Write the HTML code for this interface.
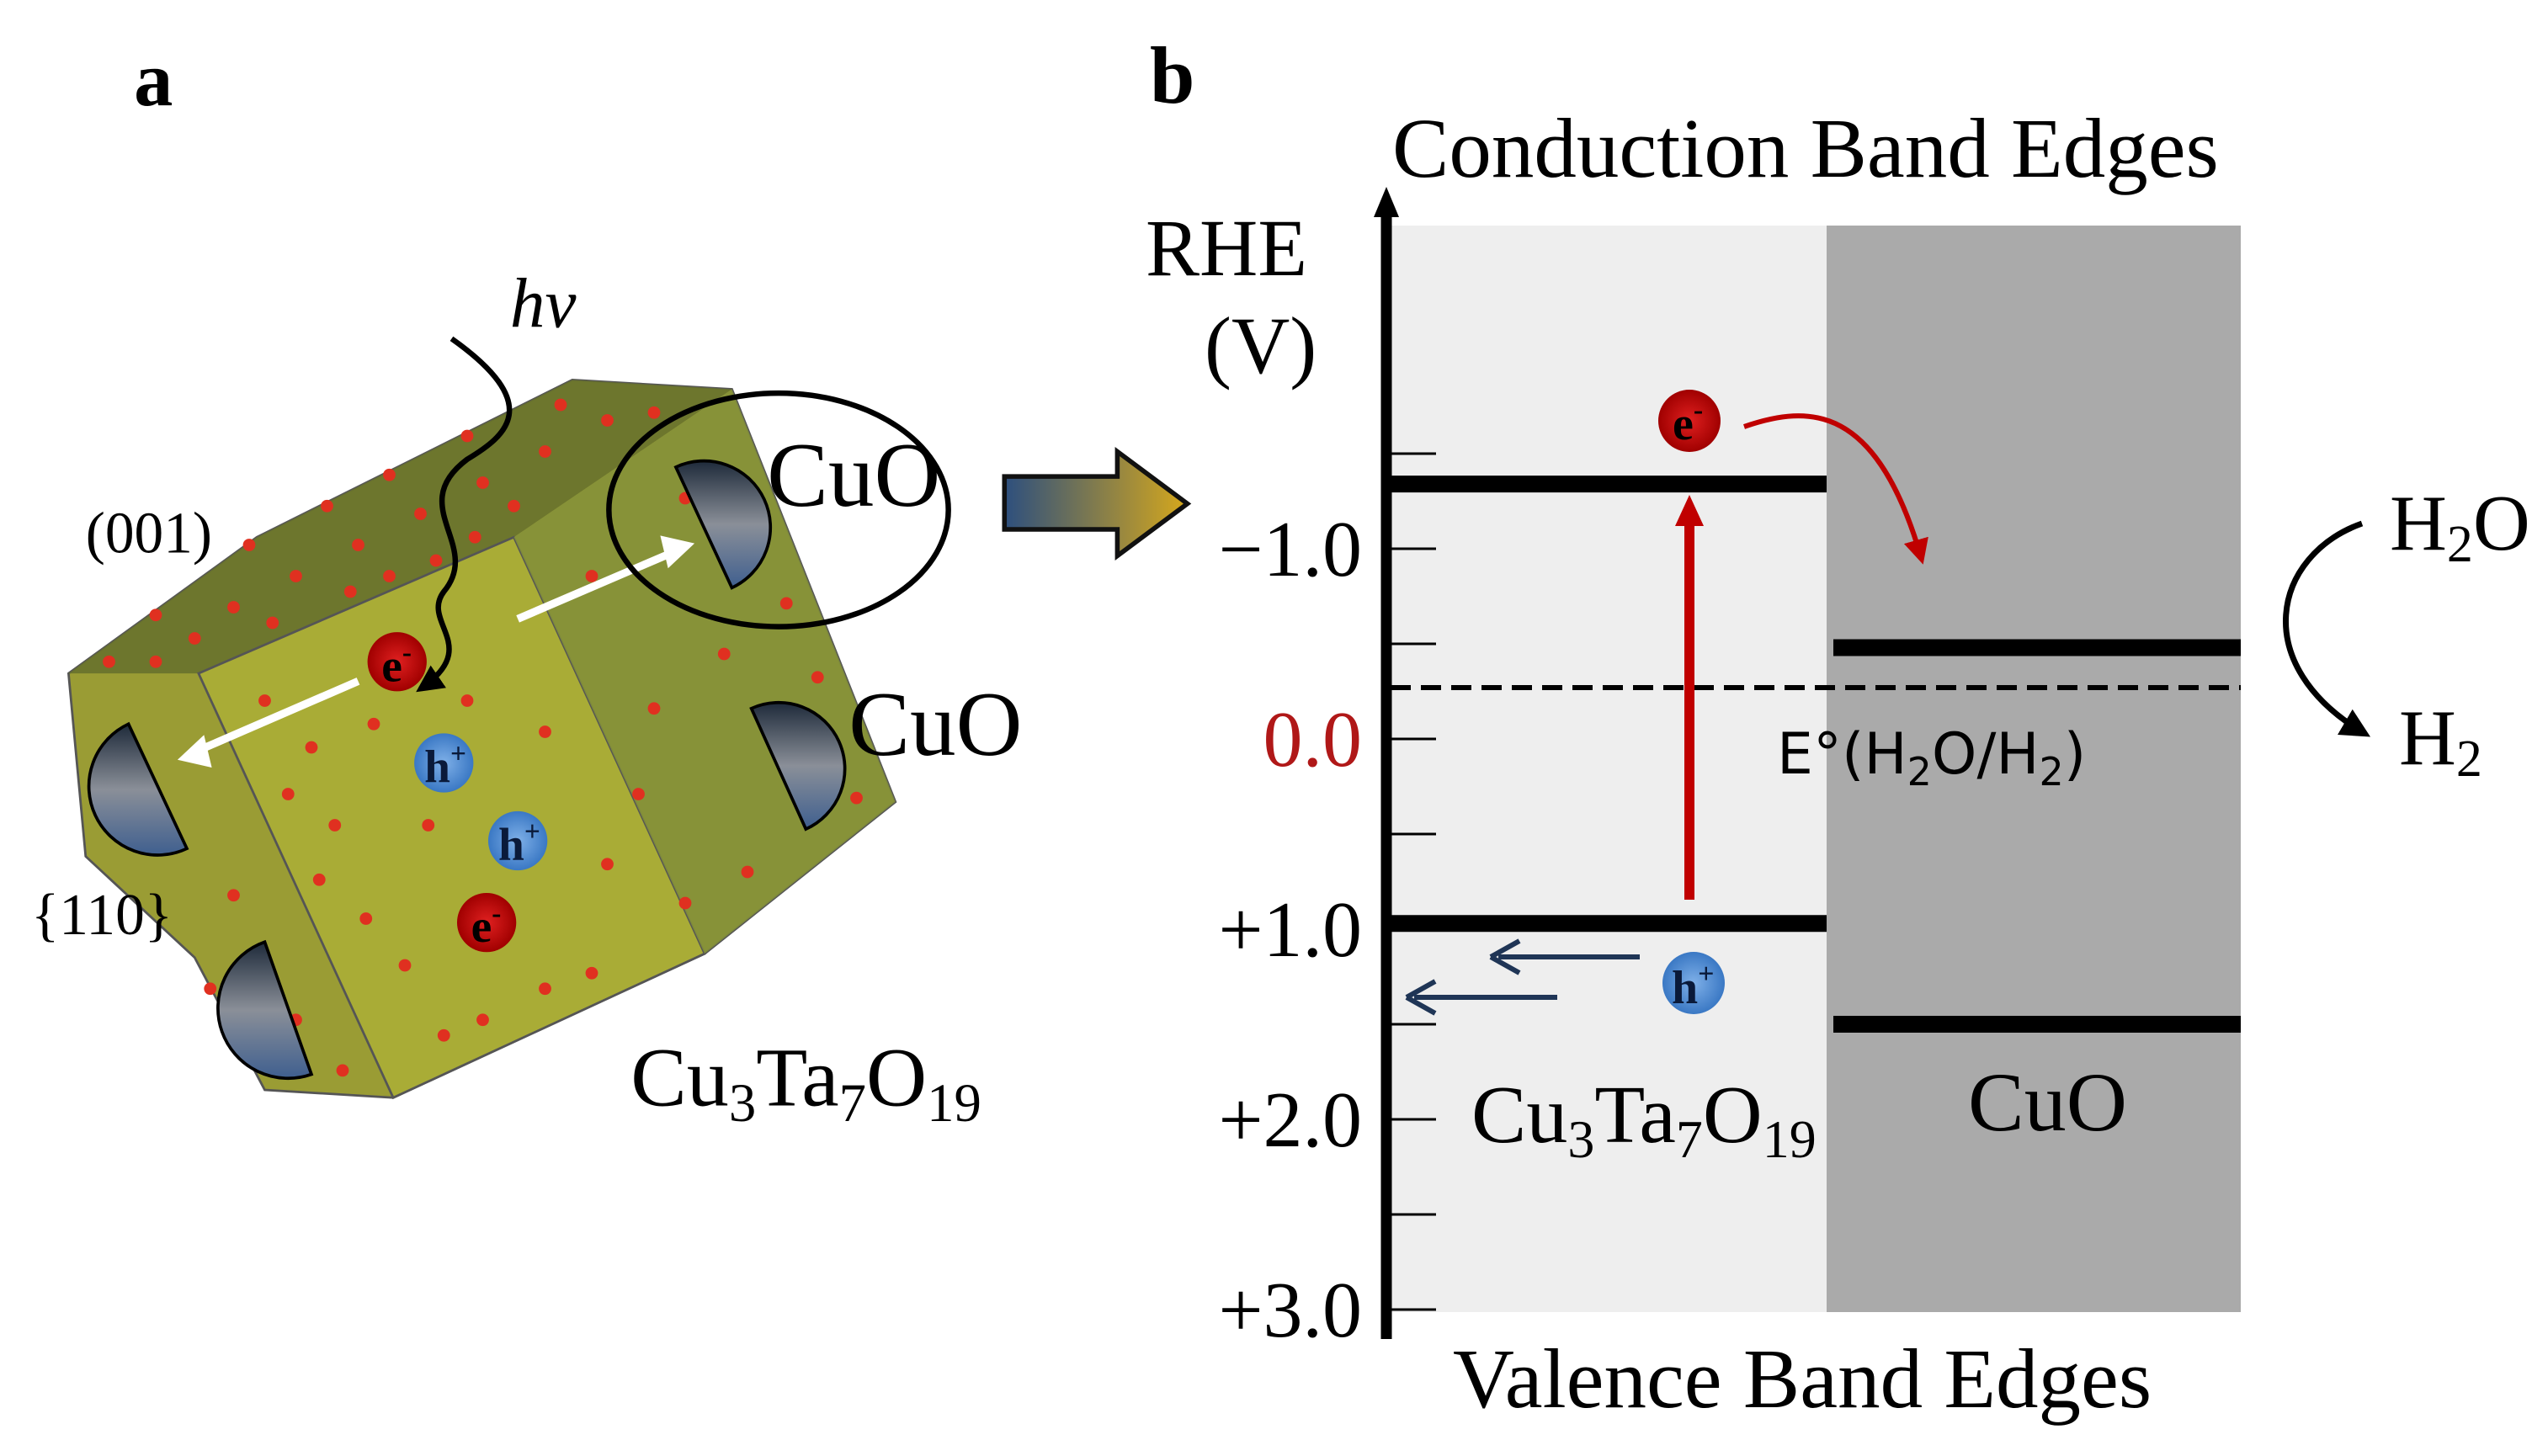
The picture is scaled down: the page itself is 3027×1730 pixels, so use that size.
<!DOCTYPE html>
<html><head><meta charset="utf-8"><style>
html,body{margin:0;padding:0;background:#fff;}
svg{display:block;}
text{font-family:"Liberation Serif",serif;}
</style></head><body>
<svg id="fig" width="3027" height="1730" viewBox="0 0 3027 1730" xmlns="http://www.w3.org/2000/svg">
<defs>
<linearGradient id="arr" x1="0" x2="1"><stop offset="0" stop-color="#2d4f7e"/><stop offset="1" stop-color="#d6a81c"/></linearGradient>
<linearGradient id="hemi" x1="0" y1="0" x2="0" y2="1"><stop offset="0" stop-color="#1e2a3a"/><stop offset="0.5" stop-color="#8a8f98"/><stop offset="1" stop-color="#3f5f8f"/></linearGradient>
<radialGradient id="blue"><stop offset="0" stop-color="#7fb0e8"/><stop offset="1" stop-color="#3a78c4"/></radialGradient>
<radialGradient id="red"><stop offset="0" stop-color="#e02020"/><stop offset="1" stop-color="#a00000"/></radialGradient>
<marker id="rtip" viewBox="0 0 10 10" refX="8" refY="5" markerWidth="5" markerHeight="5" orient="auto"><path d="M0,0 L10,5 L0,10 z" fill="#c00000"/></marker>
<marker id="ktip" viewBox="0 0 10 10" refX="8" refY="5" markerWidth="5" markerHeight="5" orient="auto"><path d="M0,0 L10,5 L0,10 z" fill="#000"/></marker>
</defs>

<!-- Panel a -->
<g transform="scale(0.925)">
<text x="172" y="135" font-size="100" font-weight="bold">a</text>
<polygon points="88,865 330,690 735,488 940,500 1150,1030 905,1225 505,1410 340,1400 250,1230 110,1100" fill="#9a9c34" stroke="#555" stroke-width="3"/>
<polygon points="88,865 330,690 735,488 940,500 660,690 255,865" fill="#68722c" opacity="0.9"/>
<polygon points="255,865 660,690 905,1225 505,1410" fill="#a9ac36" stroke="#555" stroke-width="3"/>
<polygon points="660,690 940,500 1150,1030 905,1225" fill="#84903a" opacity="0.85"/>
<g fill="#e03020">
<circle cx="300" cy="780" r="8"/><circle cx="380" cy="740" r="8"/><circle cx="460" cy="700" r="8"/><circle cx="540" cy="660" r="8"/><circle cx="620" cy="620" r="8"/><circle cx="700" cy="580" r="8"/><circle cx="780" cy="540" r="8"/><circle cx="250" cy="820" r="8"/><circle cx="350" cy="800" r="8"/><circle cx="450" cy="760" r="8"/><circle cx="560" cy="720" r="8"/><circle cx="660" cy="650" r="8"/><circle cx="140" cy="850" r="8"/><circle cx="200" cy="850" r="8"/>
<circle cx="320" cy="700" r="8"/><circle cx="420" cy="650" r="8"/><circle cx="500" cy="610" r="8"/><circle cx="600" cy="560" r="8"/><circle cx="720" cy="520" r="8"/><circle cx="840" cy="530" r="8"/><circle cx="200" cy="790" r="8"/><circle cx="500" cy="740" r="8"/><circle cx="610" cy="690" r="8"/>
<circle cx="400" cy="960" r="8"/><circle cx="700" cy="940" r="8"/><circle cx="430" cy="1060" r="8"/><circle cx="550" cy="1060" r="8"/><circle cx="410" cy="1130" r="8"/><circle cx="780" cy="1110" r="8"/><circle cx="520" cy="1240" r="8"/><circle cx="700" cy="1270" r="8"/><circle cx="620" cy="1310" r="8"/><circle cx="760" cy="1250" r="8"/><circle cx="840" cy="910" r="8"/><circle cx="930" cy="840" r="8"/><circle cx="1010" cy="775" r="8"/><circle cx="1100" cy="1025" r="8"/><circle cx="270" cy="1270" r="8"/><circle cx="440" cy="1375" r="8"/>
<circle cx="340" cy="900" r="8"/><circle cx="480" cy="930" r="8"/><circle cx="600" cy="900" r="8"/><circle cx="370" cy="1020" r="8"/><circle cx="470" cy="1180" r="8"/><circle cx="570" cy="1330" r="8"/><circle cx="820" cy="1020" r="8"/><circle cx="880" cy="1160" r="8"/><circle cx="960" cy="1120" r="8"/><circle cx="1050" cy="870" r="8"/><circle cx="760" cy="740" r="8"/><circle cx="880" cy="640" r="8"/><circle cx="300" cy="1150" r="8"/><circle cx="380" cy="1310" r="8"/>
</g>
<path d="M460,875 L250,966" stroke="#fff" stroke-width="10"/>
<path d="M228,976 L262,944 L272,986 Z" fill="#fff"/>
<path d="M665,795 L870,707" stroke="#fff" stroke-width="10"/>
<path d="M892,698 L858,730 L848,688 Z" fill="#fff"/>
<path d="M580,435 C700,520 650,560 600,590 C520,650 620,700 570,760 C540,800 620,830 540,885" fill="none" stroke="#000" stroke-width="7" marker-end="url(#ktip)"/>
<text x="655" y="420" font-size="90" font-style="italic">hv</text>
<path d="M868,600 A85,85 0 0 1 940,755 Z" fill="url(#hemi)" stroke="#000" stroke-width="4"/>
<path d="M965,910 A85,85 0 0 1 1035,1065 Z" fill="url(#hemi)" stroke="#000" stroke-width="4"/>
<path d="M165,930 A85,85 0 0 0 240,1090 Z" fill="url(#hemi)" stroke="#000" stroke-width="4"/>
<path d="M340,1210 A90,90 0 0 0 400,1380 Z" fill="url(#hemi)" stroke="#000" stroke-width="4"/>
<ellipse cx="1000" cy="655" rx="218" ry="150" fill="none" stroke="#000" stroke-width="7"/>
<circle cx="510" cy="850" r="38" fill="url(#red)"/>
<text x="490" y="875" font-size="60" font-weight="bold">e<tspan font-size="36" dy="-25">-</tspan></text>
<circle cx="625" cy="1185" r="38" fill="url(#red)"/>
<text x="605" y="1210" font-size="60" font-weight="bold">e<tspan font-size="36" dy="-25">-</tspan></text>
<circle cx="570" cy="980" r="38" fill="url(#blue)"/>
<text x="545" y="1005" font-size="60" font-weight="bold" fill="#0a1a3a">h<tspan font-size="36" dy="-25">+</tspan></text>
<circle cx="665" cy="1080" r="38" fill="url(#blue)"/>
<text x="640" y="1105" font-size="60" font-weight="bold" fill="#0a1a3a">h<tspan font-size="36" dy="-25">+</tspan></text>
<text x="985" y="650" font-size="118">CuO</text>
<text x="1090" y="970" font-size="118">CuO</text>
<text x="110" y="710" font-size="75">(001)</text>
<text x="40" y="1200" font-size="75">{110}</text>
<text x="810" y="1420" font-size="108">Cu<tspan font-size="70" dy="20">3</tspan><tspan dy="-20">Ta</tspan><tspan font-size="70" dy="20">7</tspan><tspan dy="-20">O</tspan><tspan font-size="70" dy="20">19</tspan></text>
<path d="M1290,612 L1435,612 L1435,580 L1525,647 L1435,714 L1435,680 L1290,680 Z" fill="url(#arr)" stroke="#111" stroke-width="6"/>
</g>

<!-- Panel b -->
<g id="panelb">
<text x="1366" y="122" font-size="96" font-weight="bold">b</text>
<rect x="1652" y="268" width="518" height="1291" fill="#eeeeee"/>
<rect x="2170" y="268" width="492" height="1291" fill="#aaaaaa"/>
<g id="ticks"></g>
<g id="bands"></g>
<line x1="1647" y1="250" x2="1647" y2="1591" stroke="#000" stroke-width="13"/>
<path d="M1647,222 L1632,258 L1662,258 Z" fill="#000"/>
<text x="1361" y="327" font-size="96">RHE</text>
<text x="1431" y="443" font-size="96">(V)</text>
<text x="1654" y="210" font-size="101">Conduction Band Edges</text>
<text x="1726" y="1672" font-size="101">Valence Band Edges</text>
<text x="2111" y="919" font-size="68" style="font-family:'DejaVu Sans',sans-serif">E°(H<tspan font-size="46" dy="14">2</tspan><tspan dy="-14">O/H</tspan><tspan font-size="46" dy="14">2</tspan><tspan dy="-14">)</tspan></text>
<path d="M2007,1069 L2007,610" stroke="#c00000" stroke-width="12"/>
<path d="M2007,588 L1990,625 L2024,625 Z" fill="#c00000"/>
<path d="M2072,507 C2150,480 2230,480 2283,665" fill="none" stroke="#c00000" stroke-width="6" marker-end="url(#rtip)"/>
<circle cx="2007" cy="500" r="37" fill="url(#red)"/>
<text x="1987" y="522" font-size="56" font-weight="bold">e<tspan font-size="34" dy="-24">-</tspan></text>
<line x1="1948" y1="1137" x2="1780" y2="1137" stroke="#1f3556" stroke-width="6"/>
<path d="M1771,1137 L1805,1118 M1771,1137 L1805,1156" stroke="#1f3556" stroke-width="6" fill="none"/>
<line x1="1850" y1="1185" x2="1680" y2="1185" stroke="#1f3556" stroke-width="6"/>
<path d="M1671,1185 L1705,1166 M1671,1185 L1705,1204" stroke="#1f3556" stroke-width="6" fill="none"/>
<circle cx="2012" cy="1168" r="37" fill="url(#blue)"/>
<text x="1986" y="1192" font-size="56" font-weight="bold" fill="#0a1a3a">h<tspan font-size="34" dy="-24">+</tspan></text>
<text x="1748" y="1357" font-size="98">Cu<tspan font-size="64" dy="18">3</tspan><tspan dy="-18">Ta</tspan><tspan font-size="64" dy="18">7</tspan><tspan dy="-18">O</tspan><tspan font-size="64" dy="18">19</tspan></text>
<text x="2338" y="1343" font-size="100">CuO</text>
<path d="M2806,622 C2700,660 2670,790 2810,872" fill="none" stroke="#000" stroke-width="7" marker-end="url(#ktip)"/>
<text x="2839" y="653" font-size="94">H<tspan font-size="62" dy="14">2</tspan><tspan dy="-14">O</tspan></text>
<text x="2850" y="908" font-size="94">H<tspan font-size="62" dy="14">2</tspan></text>
</g>
</svg>
<script>
const tickValues = [-1.5, -1.0, -0.5, 0.0, 0.5, 1.0, 1.5, 2.0, 2.5, 3.0];
const tickLabels = ["", "\u22121.0", "", "0.0", "", "+1.0", "", "+2.0", "", "+3.0"];
const bandNames = ["cu3ta7o19-cb", "cu3ta7o19-vb", "cuo-cb", "cuo-vb"];
const bandValues = [-1.34, 0.97, -0.48, 1.50];
const bandMaterial = [0, 0, 1, 1];
const h2Potential = [-0.27];

const NS = "http://www.w3.org/2000/svg";
function yScale(v){ return 878 + v * 226; }
const matX = [[1652, 2170], [2178, 2662]];
const tg = document.getElementById('ticks');
tickValues.forEach(function(v, i){
  const y = yScale(v);
  const l = document.createElementNS(NS, 'line');
  l.setAttribute('x1', 1647); l.setAttribute('x2', 1706);
  l.setAttribute('y1', y); l.setAttribute('y2', y);
  l.setAttribute('stroke', '#000'); l.setAttribute('stroke-width', 3);
  
  
  tg.appendChild(l);
  if (tickLabels[i]) {
    const t = document.createElementNS(NS, 'text');
    t.setAttribute('x', 1618); t.setAttribute('y', y + 32);
    t.setAttribute('text-anchor', 'end'); t.setAttribute('font-size', 94);
    t.setAttribute('fill', v === 0 ? '#b01818' : '#000');
    t.textContent = tickLabels[i];
    
    
    tg.appendChild(t);
  }
});
const bg = document.getElementById('bands');
bandValues.forEach(function(v, i){
  const xs = matX[bandMaterial[i]];
  const l = document.createElementNS(NS, 'line');
  l.setAttribute('x1', xs[0]); l.setAttribute('x2', xs[1]);
  l.setAttribute('y1', yScale(v)); l.setAttribute('y2', yScale(v));
  l.setAttribute('stroke', '#000'); l.setAttribute('stroke-width', 20);
  
  
  bg.appendChild(l);
});
h2Potential.forEach(function(v){
  const l = document.createElementNS(NS, 'line');
  l.setAttribute('x1', 1652); l.setAttribute('x2', 2662);
  l.setAttribute('y1', yScale(v)); l.setAttribute('y2', yScale(v));
  l.setAttribute('stroke', '#000'); l.setAttribute('stroke-width', 6);
  l.setAttribute('stroke-dasharray', '24 12');
  
  
  bg.appendChild(l);
});
</script>
</body></html>
